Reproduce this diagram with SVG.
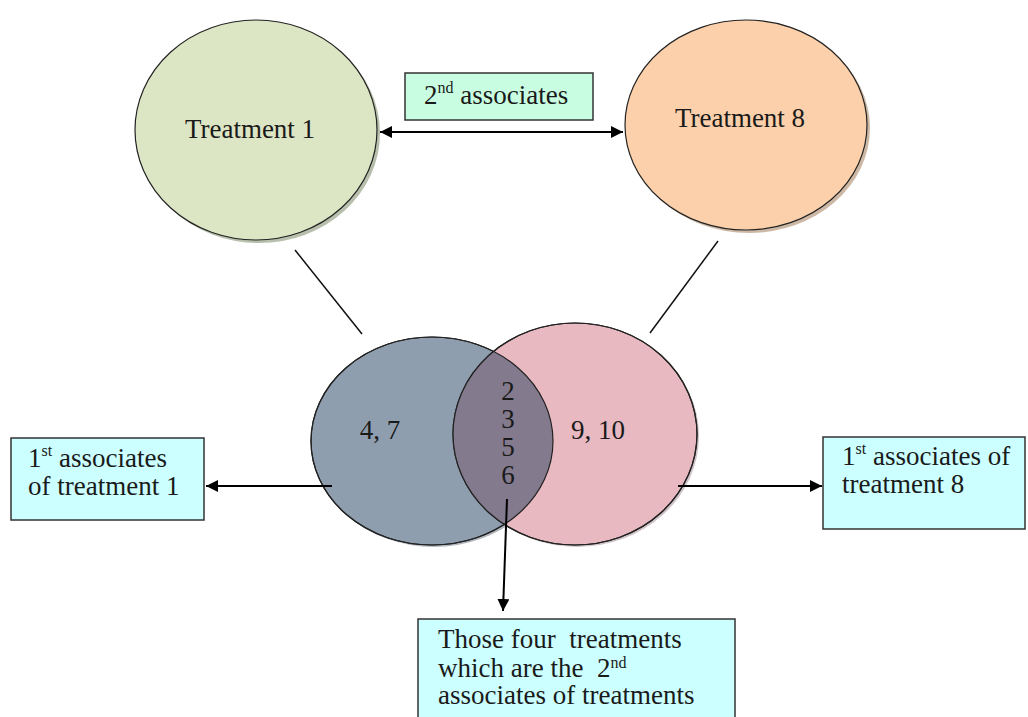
<svg xmlns="http://www.w3.org/2000/svg" width="1028" height="717" viewBox="0 0 1028 717">
<style>
text{font-family:"Liberation Serif","DejaVu Serif",serif;font-size:27px;fill:#1a1a1a}
.sup{font-size:16px}
.conn{stroke:#000;stroke-width:2;fill:none}
.plain{stroke:#111;stroke-width:1.5;fill:none}
.box{stroke:#333;stroke-width:1.5}
.outline{stroke:#222;stroke-width:1.2}
</style>
<defs>
<marker id="ah" viewBox="0 0 10 10" refX="10" refY="5" markerWidth="6" markerHeight="6" orient="auto-start-reverse" markerUnits="strokeWidth">
<path d="M0,0 L10,5 L0,10 z" fill="#000"/>
</marker>
<clipPath id="leftclip"><ellipse cx="432" cy="441" rx="121" ry="104"/></clipPath>
</defs>
<rect width="1028" height="717" fill="#fff"/>

<g id="treatment1">
<ellipse cx="259" cy="133" rx="121" ry="110" fill="#9aa58a" opacity="0.7"/>
<ellipse cx="256" cy="130" rx="121" ry="110" fill="#dde6c4" class="outline"/>
<text x="250" y="138" text-anchor="middle">Treatment 1</text>
</g>

<g id="treatment8">
<ellipse cx="749" cy="128" rx="121" ry="105" fill="#b89a80" opacity="0.7"/>
<ellipse cx="746" cy="125" rx="121" ry="105" fill="#fbd0aa" class="outline"/>
<text x="740" y="127" text-anchor="middle">Treatment 8</text>
</g>

<g id="second-associates">
<rect x="405" y="73" width="188" height="47" fill="#c9fde1" class="box"/>
<text x="424" y="104">2<tspan class="sup" dy="-11">nd</tspan><tspan dy="11"> associates</tspan></text>
</g>

<g id="venn">
<ellipse cx="434" cy="443" rx="121" ry="104" fill="#667080" opacity="0.5"/>
<ellipse cx="577" cy="436" rx="122" ry="111" fill="#a08890" opacity="0.5"/>
<ellipse cx="432" cy="441" rx="121" ry="104" fill="#8e9eae" class="outline"/>
<ellipse cx="575" cy="434" rx="122" ry="111" fill="#e8b9c1" class="outline"/>
<ellipse cx="575" cy="434" rx="122" ry="111" fill="#837a8e" clip-path="url(#leftclip)"/>
<ellipse cx="432" cy="441" rx="121" ry="104" fill="none" class="outline"/>
<ellipse cx="575" cy="434" rx="122" ry="111" fill="none" class="outline"/>
<text x="380" y="439" text-anchor="middle">4, 7</text>
<text x="598" y="439" text-anchor="middle">9, 10</text>
<text x="508" y="400" text-anchor="middle">2</text>
<text x="508" y="428" text-anchor="middle">3</text>
<text x="508" y="456" text-anchor="middle">5</text>
<text x="508" y="484" text-anchor="middle">6</text>
</g>

<g id="first-assoc-1">
<rect x="11" y="438" width="193" height="82" fill="#ccffff" class="box"/>
<text x="28" y="467">1<tspan class="sup" dy="-11">st</tspan><tspan dy="11"> associates</tspan></text>
<text x="28" y="495">of treatment 1</text>
</g>

<g id="first-assoc-8">
<rect x="823" y="437" width="202" height="92" fill="#ccffff" class="box"/>
<text x="842" y="465">1<tspan class="sup" dy="-11">st</tspan><tspan dy="11"> associates of</tspan></text>
<text x="842" y="493">treatment 8</text>
</g>

<g id="second-assoc-box">
<rect x="418" y="619" width="317" height="110" fill="#ccffff" class="box"/>
<text x="438" y="648" xml:space="preserve">Those four  treatments</text>
<text x="438" y="677" xml:space="preserve">which are the  2<tspan class="sup" dy="-9">nd</tspan></text>
<text x="438" y="704">associates of treatments</text>
</g>

<g id="connectors">
<line x1="380" y1="132" x2="623" y2="132" class="conn" marker-start="url(#ah)" marker-end="url(#ah)"/>
<line x1="295" y1="250" x2="362" y2="334" class="plain"/>
<line x1="718" y1="241" x2="650" y2="333" class="plain"/>
<line x1="332" y1="486" x2="206" y2="486" class="conn" marker-end="url(#ah)"/>
<line x1="678" y1="486" x2="822" y2="486" class="conn" marker-end="url(#ah)"/>
<line x1="507" y1="499" x2="503" y2="611" class="conn" marker-end="url(#ah)"/>
</g>
</svg>
